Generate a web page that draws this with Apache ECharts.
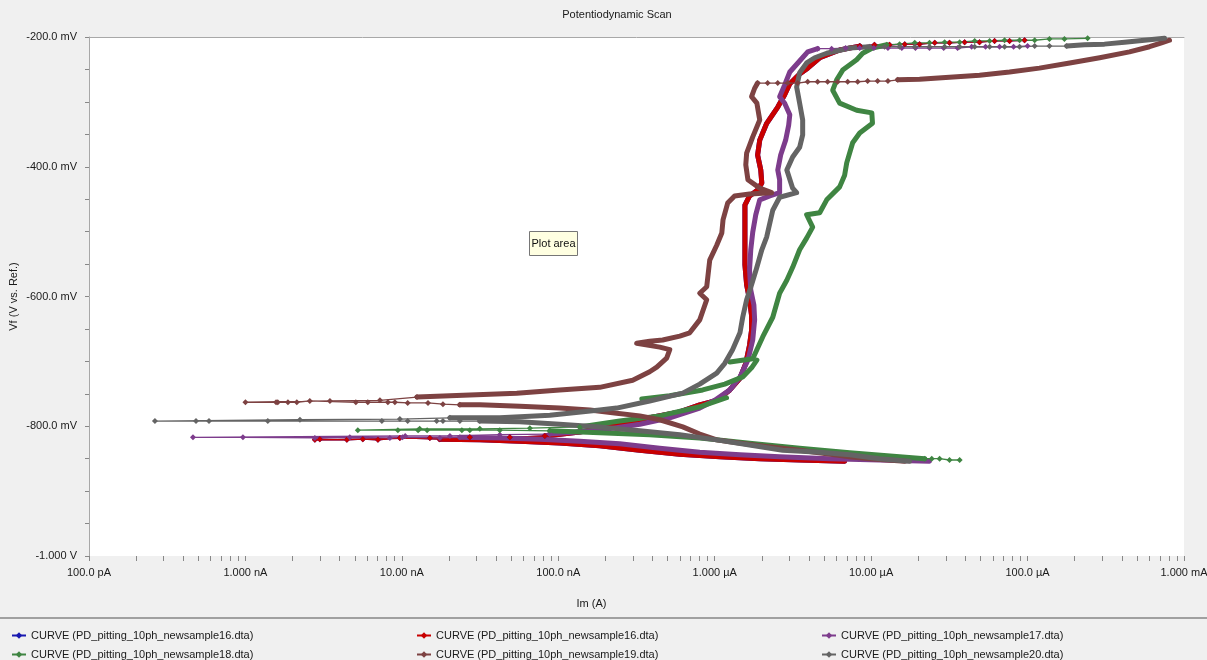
<!DOCTYPE html>
<html>
<head>
<meta charset="utf-8">
<script src="https://cdn.jsdelivr.net/npm/echarts@6/dist/echarts.min.js"></script>
<style>
  html, body { margin: 0; padding: 0; background: #f0f0f0; }
  #chart { width: 1207px; height: 660px; }
</style>
</head>
<body>
<div id="chart"></div>
<script>
// ---- axis ticks -------------------------------------------------------
const currentTicks = [1e-10, 1e-9, 1e-8, 1e-7, 1e-6, 1e-5, 1e-4, 1e-3];
const currentTickLabels = ['100.0 pA', '1.000 nA', '10.00 nA', '100.0 nA', '1.000 µA', '10.00 µA', '100.0 µA', '1.000 mA'];
const potentialTicks = [-1000, -800, -600, -400, -200];
const potentialTickLabels = ['-1.000 V', '-800.0 mV', '-600.0 mV', '-400.0 mV', '-200.0 mV'];

// ---- curve files (legend) --------------------------------------------
const curveFiles = [
  'PD_pitting_10ph_newsample16.dta',
  'PD_pitting_10ph_newsample16.dta',
  'PD_pitting_10ph_newsample17.dta',
  'PD_pitting_10ph_newsample18.dta',
  'PD_pitting_10ph_newsample19.dta',
  'PD_pitting_10ph_newsample20.dta'
];

// ---- data: [current (A), potential (mV)] ------------------------------
// newsample16
const s16Cathodic = [[6.77e-6,-854],[3.49e-6,-852],[1.94e-6,-850],[1.08e-6,-847],[5.98e-7,-843],[3.32e-7,-837],[1.84e-7,-830],[1.02e-7,-826],[5.68e-8,-823],[3.15e-8,-821],[1.75e-8,-820]];
const s16Rest = [[1.75e-8,-820],[9.71e-9,-818],[7.03e-9,-821],[5.63e-9,-820],[4.45e-9,-821],[2.99e-9,-820],[2.78e-9,-821],[1.51e-8,-818],[2.72e-8,-817],[4.90e-8,-817],[8.20e-8,-815]];
const s16Anodic = [[8.20e-8,-815],[1.37e-7,-809],[2.47e-7,-797],[3.84e-7,-787],[5.98e-7,-778],[8.02e-7,-767],[1.03e-6,-760],[1.25e-6,-744],[1.45e-6,-726],[1.58e-6,-703],[1.67e-6,-675],[1.72e-6,-652],[1.72e-6,-629],[1.67e-6,-605],[1.60e-6,-582],[1.56e-6,-551],[1.56e-6,-521],[1.56e-6,-490],[1.56e-6,-459],[1.67e-6,-445],[1.88e-6,-436],[2.00e-6,-425],[1.97e-6,-405],[1.88e-6,-382],[1.94e-6,-359],[2.15e-6,-333],[2.53e-6,-308],[2.80e-6,-289],[3.02e-6,-272],[3.49e-6,-257],[3.93e-6,-248],[4.69e-6,-232],[6.29e-6,-220],[8.45e-6,-214]];
const s16Top = [[8.45e-6,-214],[1.05e-5,-212],[1.31e-5,-212],[1.64e-5,-211],[2.04e-5,-211],[2.55e-5,-209],[3.17e-5,-209],[3.96e-5,-208],[4.93e-5,-208],[6.15e-5,-206],[7.67e-5,-206],[9.57e-5,-205]];

// newsample17
const s17Cathodic = [[2.36e-5,-854],[1.13e-5,-852],[5.43e-6,-850],[2.60e-6,-847],[1.45e-6,-844],[8.02e-7,-840],[4.45e-7,-834],[2.47e-7,-827],[1.37e-7,-823],[7.62e-8,-820],[4.23e-8,-818],[2.35e-8,-817]];
const s17Rest = [[2.35e-8,-817],[1.75e-8,-818],[1.01e-8,-817],[8.38e-9,-818],[4.65e-9,-817],[2.78e-9,-818],[9.64e-10,-817],[4.62e-10,-817],[1.05e-8,-815],[2.03e-8,-815],[4.23e-8,-813],[8.83e-8,-812]];
const s17Anodic = [[8.83e-8,-812],[1.84e-7,-806],[3.32e-7,-797],[5.16e-7,-787],[8.02e-7,-772],[1.00e-6,-760],[1.25e-6,-744],[1.45e-6,-724],[1.63e-6,-698],[1.75e-6,-667],[1.80e-6,-636],[1.78e-6,-613],[1.70e-6,-590],[1.67e-6,-559],[1.70e-6,-528],[1.75e-6,-501],[1.83e-6,-474],[1.94e-6,-451],[2.25e-6,-445],[2.60e-6,-440],[2.60e-6,-420],[2.53e-6,-405],[2.64e-6,-382],[2.84e-6,-359],[2.97e-6,-336],[3.02e-6,-320],[2.80e-6,-302],[2.60e-6,-292],[2.80e-6,-274],[3.02e-6,-254],[3.49e-6,-237],[3.93e-6,-223],[4.55e-6,-218]];
const s17Top = [[4.55e-6,-218],[5.59e-6,-218],[6.87e-6,-217],[8.45e-6,-217],[1.04e-5,-217],[1.28e-5,-217],[1.57e-5,-217],[1.92e-5,-217],[2.36e-5,-217],[2.91e-5,-217],[3.57e-5,-217],[4.39e-5,-215],[5.39e-5,-215],[6.62e-5,-215],[8.14e-5,-215],[1.00e-4,-214]];

// newsample18
const s18Start = [[3.68e-5,-852],[3.17e-5,-852],[2.74e-5,-850],[2.44e-5,-850],[2.20e-5,-850]];
const s18Cathodic = [[2.20e-5,-850],[1.52e-5,-847],[7.29e-6,-841],[3.49e-6,-834],[1.67e-6,-826],[8.02e-7,-818],[3.84e-7,-813],[1.84e-7,-810],[8.83e-8,-807]];
const s18Rest = [[8.83e-8,-807],[4.23e-8,-806],[2.72e-8,-806],[2.42e-8,-806],[1.45e-8,-806],[1.27e-8,-806],[9.43e-9,-806],[5.23e-9,-806],[1.30e-8,-804],[3.15e-8,-804],[6.58e-8,-803],[1.37e-7,-801]];
const s18AnodicA = [[1.37e-7,-801],[2.47e-7,-792],[4.45e-7,-784],[8.02e-7,-770],[1.19e-6,-756]];
const s18AnodicB = [[3.42e-7,-758],[5.16e-7,-753],[8.38e-7,-744],[1.16e-6,-735],[1.51e-6,-724],[1.72e-6,-710],[1.86e-6,-698]];
const s18AnodicC = [[1.25e-6,-701],[1.75e-6,-696],[2.03e-6,-662],[2.35e-6,-632],[2.60e-6,-595],[2.89e-6,-575],[3.15e-6,-555],[3.49e-6,-528],[3.87e-6,-510],[4.23e-6,-493],[3.87e-6,-474],[4.69e-6,-471],[5.20e-6,-451],[6.29e-6,-431],[6.77e-6,-413],[6.98e-6,-394],[7.62e-6,-363],[8.45e-6,-348],[1.02e-5,-333],[1.01e-5,-317],[8.08e-6,-313],[6.29e-6,-302],[5.68e-6,-282],[6.02e-6,-266],[6.58e-6,-251],[8.08e-6,-235],[8.83e-6,-225],[1.02e-5,-217],[1.26e-5,-212]];
const s18Top = [[1.26e-5,-212],[1.52e-5,-211],[1.90e-5,-209],[2.36e-5,-209],[2.95e-5,-208],[3.68e-5,-208],[4.59e-5,-206],[5.72e-5,-206],[7.13e-5,-205],[8.89e-5,-205],[1.11e-4,-205],[1.38e-4,-203],[1.72e-4,-203],[2.42e-4,-202]];

// newsample19
const s19Cathodic = [[1.64e-5,-854],[9.79e-6,-850],[7.29e-6,-847],[3.49e-6,-837],[1.94e-6,-830],[1.25e-6,-824],[1.03e-6,-821],[8.02e-7,-812],[6.25e-7,-801],[4.45e-7,-790],[3.32e-7,-784],[2.36e-7,-780],[1.59e-7,-775],[1.02e-7,-772],[5.68e-8,-769],[3.15e-8,-767],[2.35e-8,-767]];
const s19Rest = [[2.35e-8,-767],[1.83e-8,-766],[1.47e-8,-764],[1.09e-8,-764],[9.02e-9,-763],[8.14e-9,-763],[6.06e-9,-763],[5.08e-9,-763],[2.58e-9,-761],[2.13e-9,-763],[1.87e-9,-763],[1.61e-9,-763],[1.57e-9,-763],[1.00e-9,-763],[3.47e-9,-761],[7.24e-9,-760],[1.25e-8,-755]];
const s19Anodic = [[1.25e-8,-755],[2.72e-8,-752],[5.43e-8,-749],[1.02e-7,-744],[1.84e-7,-740],[2.99e-7,-729],[3.84e-7,-716],[4.26e-7,-709],[4.93e-7,-695],[5.16e-7,-682],[4.45e-7,-678],[3.17e-7,-672],[3.84e-7,-669],[4.65e-7,-667],[5.98e-7,-661],[6.92e-7,-656],[8.02e-7,-636],[8.89e-7,-605],[8.02e-7,-595],[8.89e-7,-585],[9.29e-7,-544],[1.03e-6,-521],[1.11e-6,-502],[1.13e-6,-482],[1.21e-6,-456],[1.34e-6,-445],[1.67e-6,-442],[2.31e-6,-440],[1.94e-6,-433],[1.63e-6,-420],[1.58e-6,-397],[1.60e-6,-379],[1.75e-6,-354],[1.94e-6,-328],[1.86e-6,-302],[1.72e-6,-292],[1.80e-6,-279],[1.88e-6,-271]];
const s19Pit = [[1.88e-6,-271],[2.18e-6,-271],[2.53e-6,-271],[2.93e-6,-271],[3.39e-6,-271],[3.93e-6,-269],[4.55e-6,-269],[5.27e-6,-269],[6.11e-6,-269],[7.08e-6,-269],[8.20e-6,-269],[9.50e-6,-268],[1.10e-5,-268],[1.28e-5,-268],[1.48e-5,-266]];
const s19Rise = [[1.48e-5,-266],[2.04e-5,-265],[3.17e-5,-262],[4.93e-5,-259],[7.67e-5,-254],[1.19e-4,-248],[1.86e-4,-240],[2.89e-4,-232],[4.48e-4,-223],[6.02e-4,-215],[7.18e-4,-209],[8.08e-4,-205]];

// newsample20
const s20Cathodic = [[1.76e-5,-854],[1.13e-5,-850],[7.29e-6,-844],[4.69e-6,-840],[2.72e-6,-837],[1.67e-6,-829],[1.03e-6,-821],[5.98e-7,-813],[3.32e-7,-807],[1.84e-7,-801],[1.02e-7,-797],[5.68e-8,-793],[3.15e-8,-792]];
const s20Rest = [[3.15e-8,-792],[2.35e-8,-792],[1.83e-8,-792],[1.67e-8,-792],[1.09e-8,-792],[7.45e-9,-792],[1.39e-9,-792],[5.85e-10,-792],[4.83e-10,-792],[2.64e-10,-792],[2.23e-9,-790],[9.71e-9,-789],[2.03e-8,-787]];
const s20Anodic = [[2.03e-8,-787],[4.23e-8,-787],[8.83e-8,-783],[1.84e-7,-775],[2.36e-7,-772],[3.84e-7,-761],[6.25e-7,-749],[8.02e-7,-735],[1.03e-6,-718],[1.16e-6,-703],[1.30e-6,-682],[1.45e-6,-656],[1.51e-6,-632],[1.60e-6,-605],[1.72e-6,-582],[1.86e-6,-555],[2.00e-6,-528],[2.15e-6,-508],[2.35e-6,-467],[2.60e-6,-447],[3.34e-6,-440],[3.15e-6,-433],[2.89e-6,-405],[3.15e-6,-385],[3.49e-6,-370],[3.65e-6,-351],[3.65e-6,-328],[3.49e-6,-302],[3.34e-6,-277],[3.49e-6,-255],[3.87e-6,-240],[4.36e-6,-232],[5.20e-6,-225],[7.29e-6,-217],[9.79e-6,-215]];
const s20Top = [[9.79e-6,-215],[1.22e-5,-215],[1.52e-5,-215],[1.90e-5,-215],[2.36e-5,-215],[2.95e-5,-215],[3.68e-5,-215],[4.59e-5,-215],[5.72e-5,-215],[7.13e-5,-215],[8.89e-5,-215],[1.11e-4,-214],[1.38e-4,-214],[1.78e-4,-214]];
const s20End = [[1.78e-4,-214],[2.31e-4,-212],[3.10e-4,-211],[4.17e-4,-208],[5.59e-4,-205],[7.51e-4,-202]];

// ---- curves: colour + segments (sparse = markers on thin line) --------
const curves = [
  { color: '#1818b0', sparse: [s16Rest, s16Top], dense: [s16Cathodic, s16Anodic] },
  { color: '#c80000', sparse: [s16Rest, s16Top], dense: [s16Cathodic, s16Anodic] },
  { color: '#7d3c8c', sparse: [s17Rest, s17Top], dense: [s17Cathodic, s17Anodic] },
  { color: '#3f8542', sparse: [s18Start, s18Rest, s18Top], dense: [s18Cathodic, s18AnodicA, s18AnodicB, s18AnodicC] },
  { color: '#7d4242', sparse: [s19Rest, s19Pit], dense: [s19Cathodic, s19Anodic, s19Rise] },
  { color: '#646464', sparse: [s20Rest, s20Top], dense: [s20Cathodic, s20Anodic, s20End] }
];

const SANS = '"Liberation Sans", Arial, sans-serif';
const TEXT = '#1a1a1a';

const series = [];
curves.forEach((c, i) => {
  const name = 'c' + i;
  c.sparse.forEach(d => series.push({
    type: 'line', name, data: d, animation: false, silent: true,
    symbol: 'diamond', symbolSize: 6, showSymbol: true,
    itemStyle: { color: c.color },
    lineStyle: { color: c.color, width: 1.3 }
  }));
  c.dense.forEach(d => series.push({
    type: 'line', name, data: d, animation: false, silent: true,
    symbol: 'none',
    lineStyle: { color: c.color, width: 5, cap: 'round', join: 'round' }
  }));
});

// tick positions: 1..9 in each decade
const tickValues = [];
for (let e = -10; e < -3; e++) {
  for (let m = 1; m <= 9; m++) tickValues.push(m * Math.pow(10, e));
}
tickValues.push(1e-3);

// one legend entry per slot: three columns, two rows
const legendCols = [6, 411, 816];
const legendRows = [625, 644];
const legends = curveFiles.map((file, i) => ({
  data: ['c' + i],
  left: legendCols[i % 3], top: legendRows[Math.floor(i / 3)],
  orient: 'horizontal', itemWidth: 14, itemHeight: 8, itemGap: 4, selectedMode: false,
  formatter: () => 'CURVE (' + file + ')',
  textStyle: { fontFamily: SANS, fontSize: 11, color: TEXT }
}));

const chart = echarts.init(document.getElementById('chart'), null, { renderer: 'canvas' });
chart.setOption({
  backgroundColor: '#f0f0f0',
  animation: false,
  title: {
    text: 'Potentiodynamic Scan', left: 612, top: 4, textAlign: 'center',
    textStyle: { fontFamily: SANS, fontSize: 11, fontWeight: 'normal', color: TEXT }
  },
  grid: {
    left: 89, right: 23, top: 37, bottom: 104,
    outerBoundsMode: 'none', containLabel: false,
    show: true, backgroundColor: '#ffffff', borderWidth: 0
  },
  xAxis: [{
    type: 'log', logBase: 10, min: 1e-10, max: 1e-3, position: 'bottom',
    name: 'Im (A)', nameLocation: 'middle', nameGap: 42, nameMoveOverlap: false,
    nameTextStyle: { fontFamily: SANS, fontSize: 11, color: TEXT, padding: [0, 90, 0, 0] },
    axisLine: { show: false },
    axisTick: { show: true, length: 5, customValues: tickValues, lineStyle: { color: '#888888' } },
    axisLabel: {
      customValues: currentTicks, margin: 11,
      fontFamily: SANS, fontSize: 11, color: TEXT,
      formatter: v => currentTickLabels[Math.round(Math.log10(v)) + 10]
    },
    splitLine: { show: false }
  }, {
    type: 'log', logBase: 10, min: 1e-10, max: 1e-3, position: 'top',
    axisLine: { show: true, lineStyle: { color: '#a8a8a8', width: 1 } },
    axisTick: { show: false }, axisLabel: { show: false }, splitLine: { show: false }
  }],
  yAxis: {
    type: 'value', min: -1000, max: -200, interval: 200,
    name: 'Vf (V vs. Ref.)', nameLocation: 'middle', nameGap: 70, nameRotate: 90, nameMoveOverlap: false,
    nameTextStyle: { fontFamily: SANS, fontSize: 11, color: TEXT },
    axisLine: { show: true, lineStyle: { color: '#a8a8a8' } },
    axisTick: { show: true, length: 4, lineStyle: { color: '#888888' } },
    minorTick: { show: true, splitNumber: 4, length: 4, lineStyle: { color: '#888888' } },
    axisLabel: {
      margin: 12, fontFamily: SANS, fontSize: 11, color: TEXT,
      formatter: v => potentialTickLabels[potentialTicks.indexOf(v)]
    },
    splitLine: { show: false }
  },
  legend: legends,
  graphic: [
    { type: 'line', shape: { x1: 0, y1: 618, x2: 1207, y2: 618 }, style: { stroke: '#a0a0a0', lineWidth: 2 }, silent: true },
    {
      type: 'group', left: 529, top: 231, silent: true,
      children: [
        { type: 'rect', shape: { x: 0, y: 0, width: 48, height: 24 }, style: { fill: '#ffffe1', stroke: '#767676', lineWidth: 1 } },
        { type: 'text', x: 24, y: 12, style: { text: 'Plot area', fontFamily: SANS, fontSize: 11, fill: '#111111', align: 'center', verticalAlign: 'middle' } }
      ]
    }
  ],
  series
});
</script>
</body>
</html>
